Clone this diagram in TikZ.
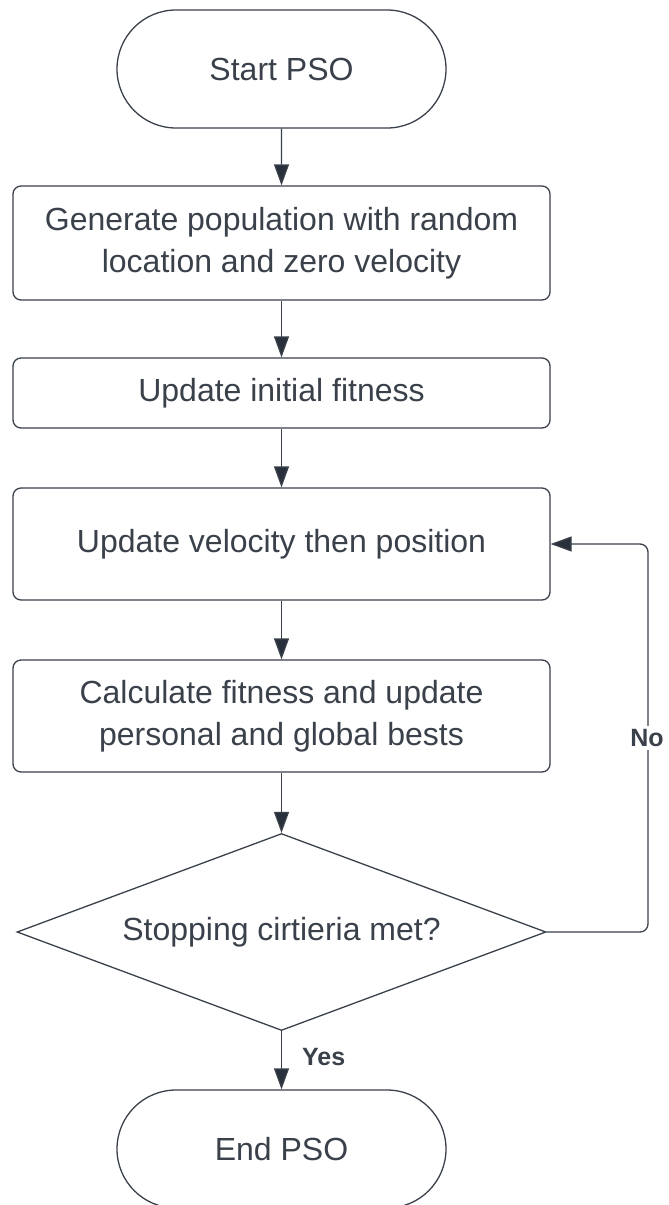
\documentclass[tikz,border=0pt]{standalone}
\usepackage{fontspec}
\setmainfont{Liberation Sans}
\usetikzlibrary{shapes.misc,shapes.geometric,arrows.meta}
\definecolor{ink}{HTML}{3A414A}
\definecolor{tip}{HTML}{27303B}
\tikzset{
  base/.style={draw=ink, line width=1.3pt, text=ink, font=\fontsize{32}{42}\selectfont, align=center, inner sep=0pt},
  term/.style={base, rounded rectangle, minimum width=329pt, minimum height=118pt},
  proc/.style={base, rounded corners=8pt, minimum width=537pt},
  dec/.style={base, diamond, minimum width=529pt, minimum height=197pt, aspect=2.69},
  conn/.style={draw=ink, line width=1.3pt, -{Triangle[length=21pt,width=15pt,fill=tip]}},
  lab/.style={text=ink, font=\bfseries\fontsize{25}{28}\selectfont, inner sep=0pt}
}
\begin{document}
\begin{tikzpicture}[x=1pt,y=-1pt]
\useasboundingbox (0,0) rectangle (669,1205);
\node[term] (start) at (281.5,69) {Start PSO};
\node[proc, minimum height=114pt] (gen) at (281.5,243) {Generate population with random\\location and zero velocity};
\node[proc, minimum height=70pt] (init) at (281.5,393) {Update initial fitness};
\node[proc, minimum height=112pt] (vel) at (281.5,544) {Update velocity then position};
\node[proc, minimum height=112pt] (fit) at (281.5,716) {Calculate fitness and update\\personal and global bests};
\node[dec] (stop) at (281.5,932) {Stopping cirtieria met?};
\node[term] (end) at (281.5,1149) {End PSO};
\coordinate (c1) at (648,932);
\coordinate (c2) at (648,544);
\draw[conn] (start) -- (gen);
\draw[conn] (gen) -- (init);
\draw[conn] (init) -- (vel);
\draw[conn] (vel) -- (fit);
\draw[conn] (fit) -- (stop);
\draw[conn] (stop) -- node[lab, right=20pt, pos=0.45] (yes) {Yes} (end);
\draw[conn, rounded corners=8pt] (stop.east) -- (c1) -- (c2) -- (vel.east);
\node[lab, fill=white, inner sep=3pt] (no) at (647,738) {No};
\end{tikzpicture}
\end{document}
